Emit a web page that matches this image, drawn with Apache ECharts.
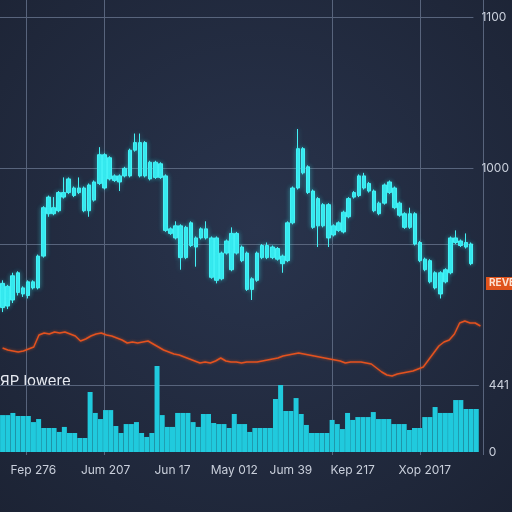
<!DOCTYPE html>
<html>
<head>
<meta charset="utf-8">
<script src="https://cdn.jsdelivr.net/npm/echarts@6/dist/echarts.min.js"></script>
<style>
  html, body { margin: 0; padding: 0; background: #1e2638; }
  #chart { width: 512px; height: 512px; }
</style>
</head>
<body>
<div id="chart"></div>
<script>
// candles: [open, close, low, high]
var candles = [
  [908, 924, 905, 926], [922, 909, 907, 923], [913, 929, 911, 931], [918, 931, 916, 932],
  [921, 917, 915, 922], [916, 925, 914, 926], [921, 925, 920, 926], [921, 942, 920, 943],
  [942, 974, 941, 975], [970, 981, 968, 982], [974, 970, 969, 981], [972, 984, 971, 985],
  [981, 984, 980, 994], [984, 993, 983, 994], [987, 982, 981, 988], [984, 987, 983, 994],
  [987, 972, 971, 988], [972, 989, 968, 990], [979, 991, 978, 992], [990, 1009, 989, 1014],
  [1009, 987, 986, 1010], [993, 1007, 992, 1008], [995, 992, 991, 996], [991, 995, 985, 996],
  [995, 1000, 994, 1001], [995, 1012, 994, 1013], [1012, 1017, 1011, 1023], [995, 1017, 994, 1023],
  [1017, 995, 994, 1018], [993, 1004, 992, 1005], [1004, 994, 993, 1005], [994, 1003, 993, 1004],
  [995, 959, 958, 996], [960, 957, 956, 961], [954, 962, 953, 965], [962, 941, 933, 963],
  [941, 961, 940, 962], [949, 964, 948, 965], [954, 948, 935, 955], [954, 960, 953, 961],
  [960, 954, 953, 965], [954, 928, 927, 955], [926, 954, 924, 955], [944, 927, 926, 945],
  [944, 952, 943, 953], [933, 957, 932, 961], [957, 944, 943, 958], [948, 939, 938, 949],
  [944, 920, 919, 945], [920, 927, 913, 928], [926, 944, 925, 945], [941, 949, 940, 950],
  [949, 941, 940, 951], [941, 948, 940, 949], [947, 940, 939, 948], [942, 937, 931, 943],
  [939, 964, 938, 965], [964, 987, 963, 988], [987, 1013, 986, 1026], [1013, 997, 996, 1014],
  [1001, 984, 983, 1002], [985, 961, 960, 986], [962, 980, 948, 981], [976, 962, 961, 977],
  [976, 954, 948, 977], [956, 962, 955, 963], [959, 964, 958, 965], [958, 971, 957, 972],
  [968, 980, 967, 981], [981, 984, 980, 985], [982, 995, 981, 996], [995, 987, 986, 997],
  [985, 990, 984, 991], [985, 972, 971, 986], [977, 970, 969, 978], [977, 989, 976, 990],
  [984, 991, 983, 992], [987, 974, 973, 988], [977, 969, 968, 978], [970, 961, 960, 971],
  [961, 970, 960, 974], [970, 950, 949, 971], [951, 939, 938, 952], [940, 933, 932, 941],
  [939, 925, 924, 940], [931, 921, 920, 932], [917, 931, 914, 932], [925, 933, 924, 934],
  [931, 954, 930, 955], [954, 951, 950, 959], [949, 952, 948, 953], [951, 948, 947, 957],
  [950, 937, 936, 951]
];

var volumes = [
  243, 243, 257, 237, 237, 237, 197, 217, 158, 158, 158, 132, 165, 125, 125, 92,
  92, 395, 257, 217, 276, 276, 171, 125, 184, 184, 197, 125, 99, 125, 566, 243,
  165, 165, 257, 257, 257, 197, 165, 250, 250, 191, 184, 184, 158, 250, 184, 184,
  132, 158, 158, 158, 158, 349, 441, 270, 270, 355, 250, 178, 125, 125, 125, 125,
  211, 184, 151, 257, 211, 230, 230, 230, 263, 217, 217, 217, 184, 184, 184, 145,
  158, 158, 230, 230, 296, 257, 257, 257, 342, 342, 283, 283, 283
];

var trendLine = [
  52, 50, 49, 48, 49, 51, 53, 65, 67, 66, 68, 67, 68, 66, 64, 59,
  61, 64, 66, 67, 65, 64, 62, 60, 57, 58, 57, 58, 59, 56, 53, 50,
  48, 46, 45, 43, 41, 39, 37, 38, 37, 39, 42, 39, 38, 38, 37, 38,
  38, 38, 39, 40, 41, 42, 44, 45, 46, 47, 46, 45, 44, 43, 42, 41,
  40, 39, 37, 38, 38, 38, 37, 36, 32, 28, 25, 24, 26, 27, 28, 29,
  31, 33, 40, 47, 54, 58, 60, 66, 77, 79, 77, 77, 74
];

var tickIdx = [6, 20, 33, 45, 56, 68, 82];
var tickLabels = ["Fep 276", "Jum 207", "Jun 17", "May 012", "Jum 39", "Kep 217", "Xop 2017"];
var gridIdx = [5, 20, 64, 81];
var priceLabels = { 1100: "1100", 1000: "1000" };
var volLabels = { 441: "441", 0: "0" };

var categories = candles.map(function (c, i) {
  var k = tickIdx.indexOf(i);
  return k >= 0 ? tickLabels[k] : "c" + i;
});

var gridColor = "#58647c";
var labelColor = "#c9cfdb";
var chart = echarts.init(document.getElementById("chart"));

var baseX = {
  type: "category",
  data: categories,
  boundaryGap: true,
  axisLine: { show: false },
  axisTick: { show: false },
  axisLabel: { show: false },
  splitLine: { show: false }
};

chart.setOption({
  animation: false,
  backgroundColor: {
    type: "radial", x: 0.5, y: 0.45, r: 0.75,
    colorStops: [
      { offset: 0, color: "#29344d" },
      { offset: 1, color: "#1c2334" }
    ]
  },
  grid: [
    { left: 0, right: 29, top: 0, bottom: 57 },
    { left: 0, right: 29, top: 17, height: 227 },
    { left: 0, right: 29, top: 300, height: 100 },
    { left: 0, right: 29, top: 385, height: 67 }
  ],
  xAxis: [
    Object.assign({}, baseX, {
      gridIndex: 0,
      splitLine: {
        show: true,
        interval: function (i) { return gridIdx.indexOf(i) >= 0; },
        lineStyle: { color: gridColor, width: 1 }
      }
    }),
    Object.assign({}, baseX, { gridIndex: 1 }),
    Object.assign({}, baseX, { gridIndex: 2 }),
    Object.assign({}, baseX, {
      gridIndex: 3,
      axisLabel: {
        show: true,
        interval: function (i) { return tickIdx.indexOf(i) >= 0; },
        color: labelColor,
        fontFamily: "Inter",
        fontSize: 12,
        margin: 12
      }
    })
  ],
  yAxis: [
    { gridIndex: 0, type: "value", min: 0, max: 1, show: false },
    {
      gridIndex: 1, type: "value", position: "right",
      min: 950, max: 1100, interval: 50,
      axisLine: { show: false }, axisTick: { show: false },
      axisLabel: {
        color: labelColor, fontFamily: "Inter", fontSize: 12, margin: 8,
        formatter: function (v) { return priceLabels[v] || ""; }
      },
      splitLine: { show: true, lineStyle: { color: [gridColor, gridColor, "transparent", gridColor], width: 1 } }
    },
    { gridIndex: 2, type: "value", min: 0, max: 100, show: false },
    {
      gridIndex: 3, type: "value", position: "right",
      min: 0, max: 441, interval: 441,
      axisLine: { show: false }, axisTick: { show: false },
      axisLabel: {
        color: labelColor, fontFamily: "Inter", fontSize: 12, margin: 10,
        formatter: function (v) { return volLabels[v] || ""; }
      },
      splitLine: { show: true, lineStyle: { color: ["transparent", gridColor], width: 1 } }
    }
  ],
  series: [
    {
      type: "candlestick",
      xAxisIndex: 1, yAxisIndex: 1,
      data: candles,
      clip: false,
      barWidth: 4,
      itemStyle: {
        color: "#36eaf0", color0: "#36eaf0",
        borderColor: "#44f2f6", borderColor0: "#44f2f6",
        borderWidth: 1,
        shadowBlur: 5, shadowColor: "rgba(60,230,240,0.45)"
      }
    },
    {
      type: "line",
      xAxisIndex: 2, yAxisIndex: 2,
      data: trendLine,
      symbol: "none",
      clip: false,
      lineStyle: { color: "#e4521f", width: 1.5, shadowBlur: 3, shadowColor: "rgba(240,90,30,0.6)" }
    },
    {
      type: "bar",
      xAxisIndex: 3, yAxisIndex: 3,
      data: volumes,
      clip: false,
      barCategoryGap: "3%",
      itemStyle: { color: "#20cadd" }
    }
  ],
  graphic: [
    {
      type: "text", left: 0, top: 374,
      style: { text: "ЯP lowere", fill: "#e6e9f0", fontSize: 15, fontFamily: "Inter" }
    },
    {
      type: "group", left: 486, top: 277,
      children: [
        { type: "rect", shape: { x: 0, y: 0, width: 30, height: 13 }, style: { fill: "#e0531c" } },
        { type: "text", x: 3, y: 1, style: { text: "REVE", fill: "#fbe0d0", fontSize: 10, fontWeight: "bold", fontFamily: "Inter" } }
      ]
    }
  ]
});
</script>
</body>
</html>
